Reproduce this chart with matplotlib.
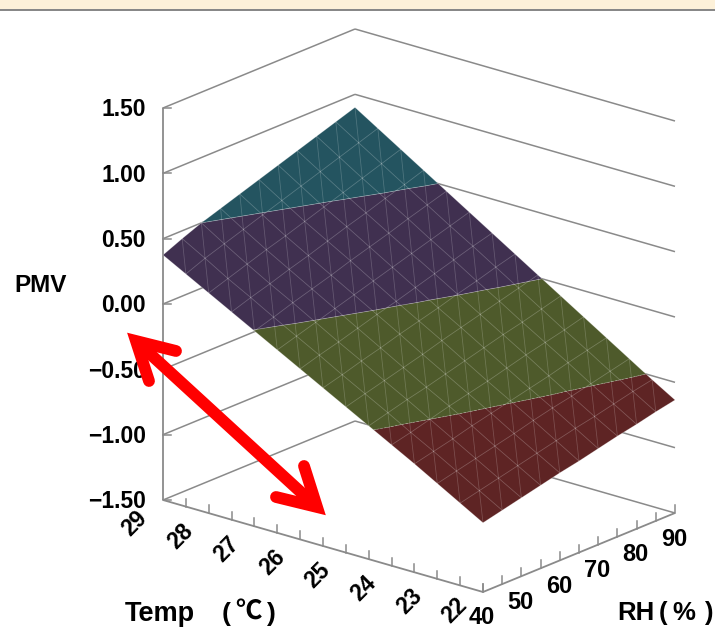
import numpy as np
import matplotlib
matplotlib.use("Agg")
import matplotlib.pyplot as plt
import matplotlib.tri as mtri
from matplotlib.patches import Rectangle

plt.rcParams['font.family'] = ['Liberation Sans', 'Noto Sans CJK JP', 'DejaVu Sans']

temps = [29, 28.5, 28, 27.5, 27, 26.5, 26, 25.5, 25, 24.5, 24, 23.5, 23, 22.5, 22]
rhs = [40, 45, 50, 55, 60, 65, 70, 75, 80, 85, 90]
pmv = [
    [.375, .44, .50, .55, .60, .65, .70, .75, .80, .85, .90],
    [.28, .34, .39, .44, .49, .54, .59, .64, .69, .74, .79],
    [.185, .235, .285, .335, .38, .43, .48, .53, .58, .63, .68],
    [.09, .14, .185, .235, .28, .33, .38, .425, .475, .52, .57],
    [-.005, .04, .09, .135, .18, .23, .275, .32, .37, .415, .46],
    [-.10, -.055, -.01, .035, .08, .125, .17, .215, .26, .305, .35],
    [-.195, -.15, -.11, -.065, -.02, .02, .065, .11, .155, .2, .24],
    [-.29, -.25, -.205, -.165, -.12, -.08, -.04, .005, .045, .09, .13],
    [-.385, -.345, -.305, -.265, -.225, -.18, -.14, -.10, -.06, -.02, .02],
    [-.48, -.44, -.40, -.365, -.325, -.285, -.245, -.205, -.17, -.13, -.09],
    [-.575, -.54, -.50, -.46, -.425, -.39, -.35, -.31, -.275, -.24, -.20],
    [-.67, -.635, -.60, -.56, -.525, -.49, -.455, -.42, -.38, -.345, -.31],
    [-.77, -.735, -.70, -.665, -.63, -.59, -.555, -.525, -.49, -.455, -.42],
    [-.87, -.835, -.80, -.765, -.73, -.695, -.66, -.63, -.595, -.56, -.53],
    [-.97, -.935, -.90, -.865, -.83, -.80, -.765, -.73, -.70, -.665, -.635],
]
z_ticks = [1.5, 1.0, 0.5, 0.0, -0.5, -1.0, -1.5]
z_labels = ['1.50', '1.00', '0.50', '0.00', '\u22120.50', '\u22121.00', '\u22121.50']
temp_labels = [29, 28, 27, 26, 25, 24, 23, 22]
rh_labels = [40, 50, 60, 70, 80, 90]
band_levels = [-3, -0.5, 0, 0.5, 3]
band_colors = ['#5E2424', '#4E5A2B', '#403050', '#245460']

GRID = '#8A8A8A'


def proj(t, rh, z=-1.5):
    t, rh, z = np.asarray(t, float), np.asarray(rh, float), np.asarray(z, float)
    x = 163 + (29 - t) / 7 * 320 + (rh - 40) / 50 * 192
    y = 500 + (29 - t) / 7 * 92 - (rh - 40) / 50 * 79 - (z + 1.5) / 3 * 392
    return x, y


fig = plt.figure(figsize=(7.15, 6.28), dpi=100)
ax = fig.add_axes([0, 0, 1, 1])
ax.set_xlim(0, 715)
ax.set_ylim(628, 0)
ax.axis('off')

# page header strip
ax.add_patch(Rectangle((0, 0), 715, 9.5, fc='#FDF1D9', ec='none'))
ax.add_patch(Rectangle((0, 9), 715, 2, fc='#888888', ec='none'))


def line(p, q, lw=1.1, z=2):
    ax.plot([p[0], q[0]], [p[1], q[1]], color=GRID, lw=lw, zorder=z,
            solid_capstyle='butt')


T0, T1, R0, R1 = temps[0], temps[-1], rhs[0], rhs[-1]
# walls
line(proj(T0, R0, z_ticks[0]), proj(T0, R0, z_ticks[-1]), lw=1.3)
for zv in z_ticks:
    line(proj(T0, R0, zv), proj(T0, R1, zv))
    line(proj(T0, R1, zv), proj(T1, R1, zv))
    x0, y0 = proj(T0, R0, zv)
    ax.plot([x0, x0 + 8], [y0, y0], color=GRID, lw=1.1, zorder=2)
# floor front
line(proj(T0, R0), proj(T1, R0), lw=1.3)
line(proj(T1, R0), proj(T1, R1), lw=1.3)
for t in temps[1:]:
    x, y = proj(t, R0)
    ax.plot([x, x], [y, y - 8], color=GRID, lw=1.1, zorder=2)
for r in rhs:
    x, y = proj(T1, r)
    ax.plot([x, x], [y, y - 8], color=GRID, lw=1.1, zorder=2)

# surface
TT, RR = np.meshgrid(temps, rhs, indexing='ij')
ZZ = np.array(pmv)
sx, sy = proj(TT, RR, ZZ)
n, m = ZZ.shape
tris = []
for i in range(n - 1):
    for j in range(m - 1):
        a = i * m + j
        b = i * m + j + 1
        c = (i + 1) * m + j
        d = (i + 1) * m + j + 1
        tris.append([a, b, c])
        tris.append([b, d, c])
tri = mtri.Triangulation(sx.ravel(), sy.ravel(), np.array(tris))
ax.tricontourf(tri, ZZ.ravel(), levels=band_levels, colors=band_colors,
               antialiased=True, zorder=3)
ax.tricontour(tri, ZZ.ravel(), levels=band_levels[1:-1], colors='white',
              linewidths=0.5, alpha=0.35, zorder=4)
MESH_A = 0.24
for i in range(n):
    ax.plot(sx[i], sy[i], color='white', lw=0.55, alpha=MESH_A, zorder=4)
for j in range(m):
    ax.plot(sx[:, j], sy[:, j], color='white', lw=0.55, alpha=MESH_A, zorder=4)
for i in range(n - 1):
    for j in range(m - 1):
        ax.plot([sx[i, j + 1], sx[i + 1, j]], [sy[i, j + 1], sy[i + 1, j]],
                color='white', lw=0.55, alpha=0.2, zorder=4)

# labels
fs = 16.5
for zv, s in zip(z_ticks, z_labels):
    x, y = proj(T0, R0, zv)
    ax.text(146, y + 2, s, ha='right', va='center', fontsize=fs,
            fontweight='bold', color='black', zorder=5)
for t in temp_labels:
    x, y = proj(t, R0)
    ax.text(x - 28, min(y + 23, 610), str(t), ha='center', va='center', rotation=45,
            fontsize=16.5, fontweight='bold', zorder=5)
for r in rh_labels:
    x, y = proj(T1, r)
    ax.text(x - 1, y + 26, str(r), ha='center', va='center', fontsize=17,
            fontweight='bold', zorder=5)
ax.text(41, 285, 'PMV', ha='center', va='center', fontsize=17.5, fontweight='bold')
ax.text(125, 614, 'Temp', ha='left', va='center', fontsize=19.5, fontweight='bold')
ax.text(222, 614, '(', ha='left', va='center', fontsize=19, fontweight='bold')
ax.text(235, 613, '\u2103', ha='left', va='center', fontsize=19, fontweight='bold')
ax.text(267, 614, ')', ha='left', va='center', fontsize=19, fontweight='bold')
ax.text(617, 613, 'RH', ha='left', va='center', fontsize=18.5, fontweight='bold')
ax.text(659, 613, '(', ha='left', va='center', fontsize=18.5, fontweight='bold')
ax.text(672, 613, '%', ha='left', va='center', fontsize=18.5, fontweight='bold')
ax.text(704, 613, ')', ha='left', va='center', fontsize=18.5, fontweight='bold')

# red double arrow (annotation drawn over the chart)
RED = '#FF0000'
shaft_w = 8.5
tip_a, tip_b = (136, 341), (317, 507)
barbs_a = [(176, 351), (149, 381)]
barbs_b = [(304, 466), (276, 497)]
ax.plot([tip_a[0], tip_b[0]], [tip_a[1], tip_b[1]], color=RED, lw=shaft_w,
        solid_capstyle='butt', zorder=6)
for tip, barbs in ((tip_a, barbs_a), (tip_b, barbs_b)):
    ax.plot([barbs[0][0], tip[0], barbs[1][0]], [barbs[0][1], tip[1], barbs[1][1]],
            color=RED, lw=shaft_w, solid_capstyle='round', solid_joinstyle='miter',
            zorder=6)

fig.savefig('out.png', dpi=100)
